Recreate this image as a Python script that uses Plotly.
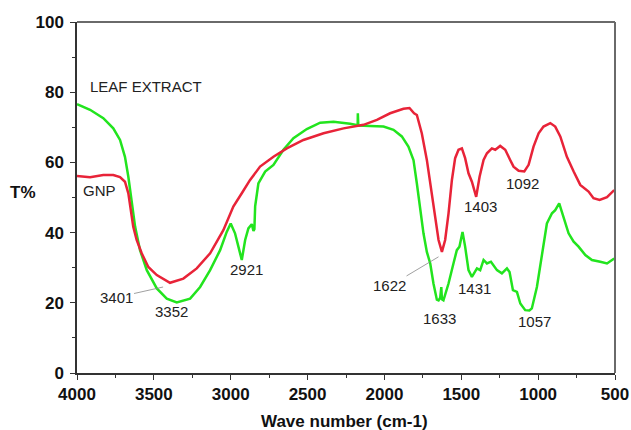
import plotly.graph_objects as go

# LEAF EXTRACT (green) spectrum
leaf_wn = [4000, 3915, 3829, 3764, 3720, 3688, 3666, 3644, 3622, 3590, 3546, 3481, 3416, 3351,
           3264, 3199, 3134, 3069, 3026, 3000, 2972, 2950, 2928, 2906, 2885, 2863, 2852, 2846,
           2841, 2820, 2776, 2722, 2657, 2592, 2505, 2418, 2331, 2223, 2180, 2174, 2173, 2170,
           2093, 2006, 1941, 1887, 1844, 1811, 1789, 1767, 1746, 1724, 1702, 1681, 1659, 1648,
           1637, 1630, 1626, 1616, 1583, 1551, 1529, 1512, 1492, 1475, 1453, 1431, 1398, 1377,
           1355, 1333, 1307, 1268, 1236, 1203, 1186, 1164, 1138, 1116, 1084, 1057, 1041, 1008,
           975, 943, 910, 889, 863, 835, 802, 769, 737, 693, 650, 596, 552, 505]
leaf_t = [76.6, 75.0, 72.6, 69.7, 66.4, 61.6, 55.9, 48.3, 41.7, 35.0, 29.3, 24.1, 21.2, 20.1,
          21.2, 24.5, 29.3, 35.0, 40.2, 42.6, 39.8, 36.0, 32.2, 37.9, 41.2, 42.4, 40.5, 41.0,
          47.5, 54.0, 57.4, 59.3, 63.6, 66.9, 69.5, 71.3, 71.6, 71.0, 70.6, 70.6, 74.0, 70.5,
          70.4, 70.2, 69.3, 67.4, 64.5, 60.7, 54.0, 46.4, 39.8, 34.5, 31.2, 25.5, 20.9, 20.7,
          21.5, 24.5, 21.0, 20.7, 25.5, 31.2, 35.0, 36.0, 40.2, 36.0, 29.3, 27.4, 29.8, 29.3,
          32.2, 31.2, 31.7, 29.3, 28.4, 29.8, 28.8, 23.6, 23.1, 19.8, 17.9, 17.8, 18.4, 24.5,
          34.1, 42.6, 45.5, 46.4, 48.3, 44.5, 39.8, 37.4, 36.0, 33.6, 32.2, 31.7, 31.2, 32.6]

# GNP (red) spectrum
gnp_wn = [4000, 3915, 3829, 3764, 3720, 3688, 3666, 3649, 3634, 3612, 3579, 3536, 3481, 3395,
          3308, 3221, 3134, 3048, 2983, 2928, 2874, 2809, 2744, 2722, 2635, 2527, 2396, 2266,
          2136, 2049, 1963, 1876, 1837, 1807, 1789, 1757, 1724, 1692, 1663, 1648, 1626, 1605,
          1583, 1561, 1540, 1518, 1496, 1475, 1453, 1431, 1403, 1381, 1355, 1333, 1301, 1279,
          1247, 1214, 1182, 1160, 1127, 1090, 1062, 1030, 997, 965, 921, 889, 856, 813, 769,
          726, 672, 640, 600, 552, 505]
gnp_t = [56.1, 55.8, 56.4, 56.4, 55.8, 54.5, 51.2, 45.5, 41.7, 37.9, 34.1, 30.2, 27.9, 25.7,
         26.9, 29.8, 34.1, 40.7, 47.4, 51.2, 55.0, 58.8, 61.0, 61.6, 64.0, 66.4, 68.3, 69.7,
         70.7, 72.1, 74.0, 75.3, 75.5, 74.0, 73.5, 68.3, 60.7, 51.2, 42.6, 37.9, 34.5, 37.9,
         45.5, 55.0, 61.2, 63.6, 64.0, 61.2, 56.9, 54.5, 50.2, 55.9, 60.7, 62.6, 64.0, 63.6,
         64.7, 63.6, 60.7, 58.8, 57.6, 57.4, 59.3, 64.5, 68.3, 70.2, 71.2, 70.2, 67.4, 61.6,
         57.4, 53.6, 51.7, 49.8, 49.3, 50.1, 52.1]

x_ticks = [4000, 3500, 3000, 2500, 2000, 1500, 1000, 500]
y_ticks = [0, 20, 40, 60, 80, 100]

# Peak labels: text, label x, label y
label_text = ["LEAF EXTRACT", "GNP", "3352", "2921", "1633", "1431", "1403", "1092", "1057"]
label_x = [3554, 3855, 3384, 2900, 1639, 1411, 1377, 1102, 1021]
label_y = [81.5, 52.1, 17.4, 29.5, 15.5, 24.1, 47.4, 54.1, 14.6]

# Labels with leader lines: text, label x, label y, pointed x, pointed y
lead_text = ["3401", "1622"]
lead_x = [3746, 1965]
lead_y = [21.5, 24.8]
lead_px = [3440, 1648]
lead_py = [24.5, 33.1]

fig = go.Figure()
fig.add_trace(go.Scatter(x=leaf_wn, y=leaf_t, mode="lines",
                         line=dict(color="#22e41e", width=2.5), showlegend=False))
fig.add_trace(go.Scatter(x=gnp_wn, y=gnp_t, mode="lines",
                         line=dict(color="#e82338", width=2.5), showlegend=False))

ann_font = dict(family="Liberation Sans, Arial", size=15, color="#222222")
annotations = []
for t, x, y in zip(label_text, label_x, label_y):
    annotations.append(dict(x=x, y=y, xref="x", yref="y", text=t, showarrow=False,
                            font=ann_font, xanchor="center", yanchor="middle"))
for t, x, y, px, py in zip(lead_text, lead_x, lead_y, lead_px, lead_py):
    annotations.append(dict(x=px, y=py, xref="x", yref="y", ax=x, ay=y, axref="x", ayref="y",
                            text=t, showarrow=True, arrowhead=0, arrowwidth=0.8,
                            arrowcolor="#888888", font=ann_font, standoff=0))

bold = dict(family="Liberation Sans, Arial", size=17, color="#111111", weight=700)
annotations.append(dict(x=-0.1, y=51.4, xref="paper", yref="y", text="T%", showarrow=False,
                        font=bold, xanchor="center", yanchor="middle"))
annotations.append(dict(x=0.498, y=-0.137, xref="paper", yref="paper",
                        text="Wave number (cm-1)", showarrow=False, font=bold,
                        xanchor="center", yanchor="middle"))

fig.update_layout(
    width=631, height=430,
    margin=dict(l=77, r=16, t=22, b=57, autoexpand=False),
    paper_bgcolor="white", plot_bgcolor="white",
    annotations=annotations,
    shapes=[
        dict(type="line", xref="paper", yref="paper", x0=0, x1=1, y0=1, y1=1,
             line=dict(color="#6a6a6a", width=2)),
        dict(type="line", xref="paper", yref="paper", x0=1, x1=1, y0=0, y1=1,
             line=dict(color="#6a6a6a", width=2)),
    ],
)
fig.update_xaxes(range=[4000, 500], tickvals=x_ticks, ticktext=[str(v) for v in x_ticks],
                 showgrid=False, zeroline=False, showline=True, linecolor="#333333",
                 linewidth=1.5, ticks="outside", ticklen=5, tickwidth=1.2, tickcolor="#333333",
                 tickfont=bold, automargin=False,
                 minor=dict(dtick=250, tick0=500, ticks="outside", ticklen=3,
                            tickcolor="#333333", tickwidth=1.2, showgrid=False))
fig.update_yaxes(range=[0, 100], tickvals=y_ticks, showgrid=False, zeroline=False,
                 showline=True, linecolor="#333333", linewidth=1.5, ticks="outside",
                 ticklen=5, tickwidth=1.2, tickcolor="#333333", tickfont=bold,
                 ticklabelstandoff=3, automargin=False,
                 minor=dict(dtick=10, tick0=0, ticks="outside", ticklen=3,
                            tickcolor="#333333", tickwidth=1.2, showgrid=False))

fig.write_html("out.html", config={"displayModeBar": False},
               post_script="document.body.style.margin='0';document.body.style.overflow='hidden';")
